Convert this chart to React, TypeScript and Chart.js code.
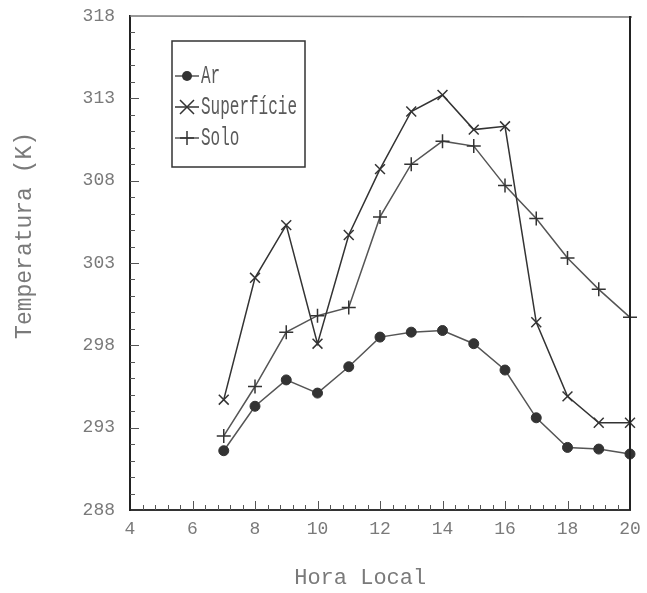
import React, { useEffect, useRef } from "react";
import { Chart, registerables } from "chart.js";

Chart.register(...registerables);

const hours = [7, 8, 9, 10, 11, 12, 13, 14, 15, 16, 17, 18, 19, 20];
const arTemps = [291.6, 294.3, 295.9, 295.1, 296.7, 298.5, 298.8, 298.9, 298.1, 296.5, 293.6, 291.8, 291.7, 291.4];
const superficieTemps = [294.7, 302.1, 305.3, 298.1, 304.7, 308.7, 312.2, 313.2, 311.1, 311.3, 299.4, 294.9, 293.3, 293.3];
const soloTemps = [292.5, 295.5, 298.8, 299.8, 300.3, 305.8, 309.0, 310.4, 310.1, 307.7, 305.7, 303.3, 301.4, 299.7];
const seriesNames = ["Ar", "Superfície", "Solo"];
const xMin = 4;
const xMax = 20;
const xStep = 2;
const yMin = 288;
const yMax = 318;
const yStep = 5;
const xTitle = "Hora Local";
const yTitle = "Temperatura (K)";

const MONO = "'Liberation Mono', 'DejaVu Sans Mono', monospace";
const TEXT = "#7a7a7a";

function drawMarker(ctx: CanvasRenderingContext2D, style: string, x: number, y: number, r: number) {
  ctx.beginPath();
  if (style === "circle") {
    ctx.arc(x, y, r, 0, Math.PI * 2);
    ctx.fill();
    return;
  }
  if (style === "crossRot") {
    ctx.moveTo(x - r, y - r);
    ctx.lineTo(x + r, y + r);
    ctx.moveTo(x - r, y + r);
    ctx.lineTo(x + r, y - r);
  } else {
    ctx.moveTo(x - r, y);
    ctx.lineTo(x + r, y);
    ctx.moveTo(x, y - r);
    ctx.lineTo(x, y + r);
  }
  ctx.stroke();
}

const framePlugin = {
  id: "frameTicks",
  afterDraw(chart: any) {
    const ctx: CanvasRenderingContext2D = chart.ctx;
    const { left, right, top, bottom } = chart.chartArea;
    const xs = chart.scales.x;
    const ys = chart.scales.y;
    ctx.save();
    ctx.strokeStyle = "#777";
    ctx.lineWidth = 1.5;
    ctx.beginPath();
    ctx.moveTo(left, top);
    ctx.lineTo(right + 2, top + 1);
    ctx.stroke();
    ctx.strokeStyle = "#222";
    ctx.lineWidth = 2;
    ctx.beginPath();
    ctx.moveTo(right, top);
    ctx.lineTo(right, bottom);
    ctx.stroke();
    ctx.strokeStyle = "#555";
    ctx.lineWidth = 1;
    const nx = Math.round((xMax - xMin) / 0.4);
    for (let i = 1; i < nx; i++) {
      const v = xMin + i * 0.4;
      const px = Math.round(xs.getPixelForValue(v)) + 0.5;
      const len = i % 5 === 0 ? 9 : 5;
      ctx.beginPath();
      ctx.moveTo(px, bottom);
      ctx.lineTo(px, bottom - len);
      ctx.stroke();
    }
    for (let v = yMin + 1; v < yMax; v++) {
      const py = Math.round(ys.getPixelForValue(v)) + 0.5;
      const len = (v - yMin) % yStep === 0 ? 9 : 5;
      ctx.beginPath();
      ctx.moveTo(left, py);
      ctx.lineTo(left + len, py);
      ctx.stroke();
    }
    ctx.restore();
  },
  afterDatasetsDraw(chart: any) {
    const ctx: CanvasRenderingContext2D = chart.ctx;
    const { left, top } = chart.chartArea;
    const bx = left + 42;
    const by = top + 25;
    const bw = 133;
    const bh = 126;
    ctx.save();
    ctx.fillStyle = "#fff";
    ctx.fillRect(bx, by, bw, bh);
    ctx.strokeStyle = "#333";
    ctx.lineWidth = 1.5;
    ctx.strokeRect(bx, by, bw, bh);
    chart.data.datasets.forEach((ds: any, i: number) => {
      const cy = by + 35 + i * 31;
      ctx.strokeStyle = ds.borderColor;
      ctx.fillStyle = ds.pointBackgroundColor;
      ctx.lineWidth = 1.5;
      ctx.beginPath();
      ctx.moveTo(bx + 3, cy);
      ctx.lineTo(bx + 27, cy);
      ctx.stroke();
      ctx.strokeStyle = ds.pointBorderColor;
      ctx.lineWidth = ds.pointBorderWidth;
      drawMarker(ctx, ds.pointStyle, bx + 15, cy, ds.pointRadius);
      ctx.save();
      ctx.translate(bx + 29, cy);
      ctx.scale(1, 1.6);
      ctx.fillStyle = "#5a5a5a";
      ctx.font = `16px ${MONO}`;
      ctx.textBaseline = "middle";
      ctx.textAlign = "left";
      ctx.fillText(ds.label, 0, 0);
      ctx.restore();
    });
    ctx.restore();
  },
};

export default function App() {
  const canvasRef = useRef<HTMLCanvasElement | null>(null);

  useEffect(() => {
    document.body.style.margin = "0";
    const canvas = canvasRef.current;
    if (!canvas) return;
    const mk = (vals: number[]) => hours.map((h, i) => ({ x: h, y: vals[i] }));
    const chart = new Chart(canvas, {
      type: "line",
      data: {
        datasets: [
          {
            label: seriesNames[0],
            data: mk(arTemps),
            borderColor: "#555",
            borderWidth: 1.5,
            pointStyle: "circle",
            pointRadius: 5,
            pointBackgroundColor: "#333",
            pointBorderColor: "#333",
            pointBorderWidth: 1,
            tension: 0,
            clip: false,
          },
          {
            label: seriesNames[1],
            data: mk(superficieTemps),
            borderColor: "#333",
            borderWidth: 1.5,
            pointStyle: "crossRot",
            pointRadius: 7,
            pointBackgroundColor: "#333",
            pointBorderColor: "#333",
            pointBorderWidth: 1.5,
            tension: 0,
            clip: false,
          },
          {
            label: seriesNames[2],
            data: mk(soloTemps),
            borderColor: "#555",
            borderWidth: 1.5,
            pointStyle: "cross",
            pointRadius: 7,
            pointBackgroundColor: "#333",
            pointBorderColor: "#333",
            pointBorderWidth: 1.5,
            tension: 0,
            clip: false,
          },
        ] as any,
      },
      options: {
        animation: false,
        responsive: false,
        maintainAspectRatio: false,
        layout: { padding: { top: 16, right: 17, left: 0, bottom: 0 } },
        plugins: {
          legend: { display: false },
          tooltip: { enabled: false },
        },
        scales: {
          x: {
            type: "linear",
            min: xMin,
            max: xMax,
            ticks: {
              stepSize: xStep,
              color: TEXT,
              font: { family: MONO, size: 18 },
              padding: 8,
              maxRotation: 0,
            },
            grid: { display: false, drawTicks: false },
            border: { display: true, color: "#333", width: 2 },
            title: {
              display: true,
              text: xTitle + "   ",
              color: TEXT,
              font: { family: MONO, size: 22 },
              padding: { top: 0, bottom: 2 },
            },
            afterFit: (s: any) => {
              s.height = 83;
              s.paddingLeft = 0;
              s.paddingRight = 0;
            },
          },
          y: {
            type: "linear",
            min: yMin,
            max: yMax,
            ticks: {
              stepSize: yStep,
              color: TEXT,
              font: { family: MONO, size: 18 },
              padding: 15,
            },
            grid: { display: false, drawTicks: false },
            border: { display: true, color: "#222", width: 2 },
            title: {
              display: true,
              text: "    " + yTitle,
              color: TEXT,
              font: { family: MONO, size: 23 },
              padding: { top: 11, bottom: 0 },
            },
            afterFit: (s: any) => {
              s.width = 130;
              s.paddingTop = 0;
              s.paddingBottom = 0;
            },
          },
        },
      } as any,
      plugins: [framePlugin],
    });
    return () => chart.destroy();
  }, []);

  return (
    <div style={{ position: "absolute", left: 0, top: 0, width: 647, height: 593, background: "#fff" }}>
      <canvas ref={canvasRef} width={647} height={593} style={{ width: 647, height: 593 }} />
    </div>
  );
}
